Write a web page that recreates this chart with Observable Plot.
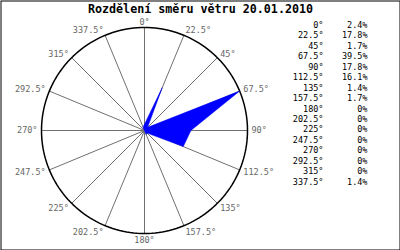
<!DOCTYPE html>
<html>
<head>
<meta charset="utf-8">
<script src="https://cdn.jsdelivr.net/npm/d3@7"></script>
<script src="https://cdn.jsdelivr.net/npm/@observablehq/plot@0.6"></script>
<style>
  html, body { margin: 0; padding: 0; background: #fff; }
  #chart svg { display: block; }
</style>
</head>
<body>
<div id="chart"></div>
<script>
const title = "Rozdělení směru větru 20.01.2010";
const directions = [0, 22.5, 45, 67.5, 90, 112.5, 135, 157.5, 180, 202.5, 225, 247.5, 270, 292.5, 315, 337.5];
const directionLabels = ["0°", "22.5°", "45°", "67.5°", "90°", "112.5°", "135°", "157.5°", "180°", "202.5°", "225°", "247.5°", "270°", "292.5°", "315°", "337.5°"];
const shares = [2.4, 17.8, 1.7, 39.5, 17.8, 16.1, 1.4, 1.7, 0, 0, 0, 0, 0, 0, 0, 1.4];
const shareLabels = ["2.4%", "17.8%", "1.7%", "39.5%", "17.8%", "16.1%", "1.4%", "1.7%", "0%", "0%", "0%", "0%", "0%", "0%", "0%", "1.4%"];

const W = 400, H = 250;
const CX = 144, CY = 130, R = 103; // centre and radius of the wind rose in pixels
const maxShare = d3.max(shares);
const rad = d => d * Math.PI / 180;
const sx = d => Math.sin(rad(d));
const cy = d => Math.cos(rad(d));

const mono = "'DejaVu Sans Mono', 'Liberation Mono', monospace";

// label placement around the circle (in rose units, 1 = radius)
const labX = d => (sx(d) * (R + 2) + 2 * sx(d)) / R;
const labY = d => {
  const c = cy(d);
  const off = c >= 0 ? 5 * c : 7 * c;
  return (c * R + off) / R;
};
const side = d => (sx(d) > 0.01 ? "start" : sx(d) < -0.01 ? "end" : "middle");
const labelMark = anchor => Plot.text(directions.filter(d => side(d) === anchor), {
  x: labX, y: labY,
  text: d => directionLabels[directions.indexOf(d)],
  textAnchor: anchor, lineAnchor: "middle",
  fill: "#666", fontSize: 8.5, fontFamily: mono
});

const legendLine = 10.45 / 8.5;

const chart = Plot.plot({
  width: W, height: H, margin: 0,
  x: {domain: [-CX / R, (W - CX) / R], range: [0, W], axis: null},
  y: {domain: [-(H - CY) / R, CY / R], range: [H, 0], axis: null},
  style: {background: "#fff", overflow: "visible"},
  marks: [
    Plot.frame({stroke: "black", strokeWidth: 1, inset: 0.5}),
    Plot.link(directions, {x1: 0, y1: 0, x2: sx, y2: cy, stroke: "#707070", strokeWidth: 1}),
    Plot.line(d3.range(0, 361, 2), {x: sx, y: cy, stroke: "black", strokeWidth: 1.5}),
    Plot.line(directions, {
      x: (d, i) => sx(d) * shares[i] / maxShare,
      y: (d, i) => cy(d) * shares[i] / maxShare,
      curve: "linear-closed", fill: "blue", stroke: "blue", strokeWidth: 0.5
    }),
    labelMark("start"), labelMark("end"), labelMark("middle"),
    Plot.text([title], {frameAnchor: "top", dy: 9, lineAnchor: "middle", text: d => d,
      fontSize: 11.7, fontWeight: "bold", fontFamily: mono, fill: "black"}),
    Plot.text([directionLabels.join("\n")], {frameAnchor: "top-right", dx: -77, dy: 20,
      text: d => d, textAnchor: "end", lineAnchor: "top", lineHeight: legendLine,
      fontSize: 8.5, fontFamily: mono, fill: "black"}),
    Plot.text([shareLabels.join("\n")], {frameAnchor: "top-right", dx: -33, dy: 20,
      text: d => d, textAnchor: "end", lineAnchor: "top", lineHeight: legendLine,
      fontSize: 8.5, fontFamily: mono, fill: "black"})
  ]
});
document.getElementById("chart").appendChild(chart);
</script>
</body>
</html>
